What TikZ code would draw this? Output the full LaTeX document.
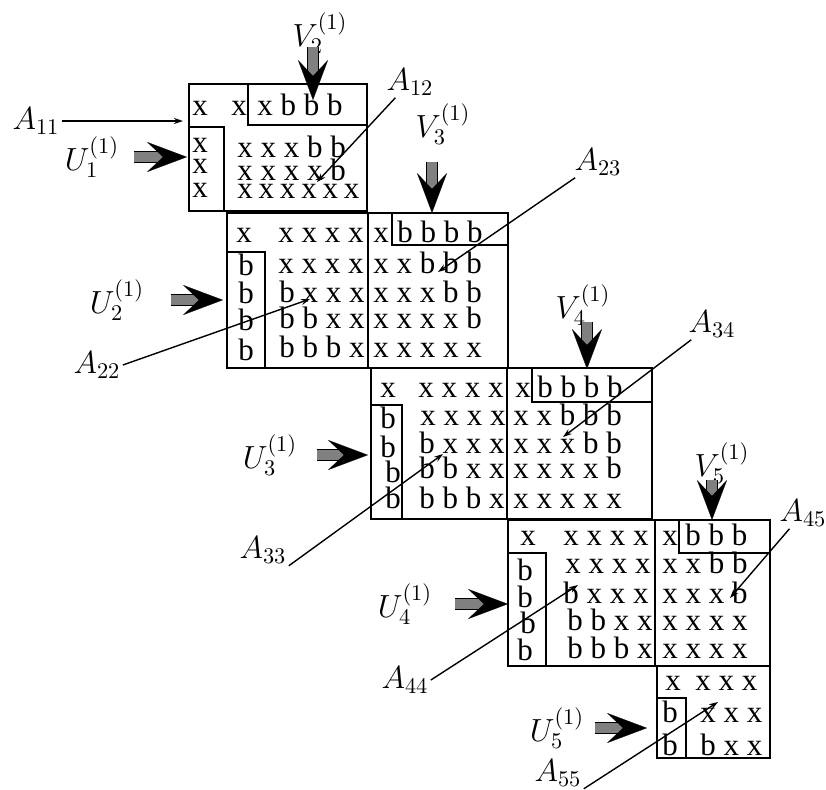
\documentclass[tikz,border=0pt]{standalone}
\usepackage{fix-cm}
\usepackage{fontspec}
\usepackage{tikz}
\usetikzlibrary{arrows.meta,positioning,calc}
\newfontfamily\entfamily{Liberation Serif}
\newcommand\entfont{\entfamily\fontsize{15.5pt}{18pt}\selectfont}
\newcommand\lblfont{\fontsize{16pt}{19pt}\selectfont}
\tikzset{
  blk/.style={draw, line width=1pt},
  ent/.style={font=\entfont, inner sep=0pt, anchor=base west},
  tight/.style={ent, font={\entfont\spaceskip=2.9pt}},
  lbl/.style={font=\lblfont, inner sep=1pt},
  ptr/.style={-{Stealth[length=4.5pt,width=3pt]}, line width=0.7pt},
  fat/.style={draw=gray, line width=4.6pt,
    preaction={-, draw=black, line width=6pt, shorten >=11pt},
    -{Stealth[length=20pt,width=15pt,inset=8pt,line width=0.1pt,color=black]}}
}

\begin{document}
\begin{tikzpicture}[x=0.5pt, y=-0.5pt]
  \useasboundingbox (0,0) rectangle (826,789);

  % block 1
  \draw[blk] (189,84) rectangle (367,211);
  \draw[blk] (248,84) rectangle (367,125);
  \draw[blk] (189,127) rectangle (224,211);
  \node[ent] (e1a) at (192,115) {x};
  \node[ent] (e1b) at (231,115) {x};
  \node[ent] (e1c) at (257,115) {x b b b};
  \node[ent] (e1u1) at (192,152) {x};
  \node[ent] (e1u2) at (192,173) {x};
  \node[ent] (e1u3) at (192,197) {x};
  \node[ent] (e1r2) at (237,157) {x x x b b};
  \node[ent] (e1r3) at (237,180) {x x x x b};
  \node[tight] (e1r4) at (237,198) {x x x x x x};

  % block 2
  \draw[blk] (227,213) rectangle (508,368);
  \draw[blk] (368,213) -- (368,368);
  \draw[blk] (392,213) rectangle (508,245);
  \draw[blk] (227,252) rectangle (265,368);
  \node[ent] (e2a) at (236,242) {x};
  \node[ent] (e2b) at (278,242) {x x x x};
  \node[ent] (e2c) at (373,242) {x};
  \node[ent] (e2d) at (397,242) {b b b b};
  \node[ent] (e2r2l) at (278,273) {x x x x};
  \node[ent] (e2r2r) at (373,273) {x x b b b};
  \node[ent] (e2r3l) at (279,302) {b x x x};
  \node[ent] (e2r3r) at (373,302) {x x x b b};
  \node[ent] (e2r4l) at (279,328) {b b x x};
  \node[ent] (e2r4r) at (373,328) {x x x x b};
  \node[ent] (e2r5l) at (279,357) {b b b x};
  \node[ent] (e2r5r) at (373,357) {x x x x x};
  \node[ent] (e2u1) at (238,275) {b};
  \node[ent] (e2u2) at (238,303) {b};
  \node[ent] (e2u3) at (238,330) {b};
  \node[ent] (e2u4) at (238,360) {b};

  % block 3
  \draw[blk] (371,368) rectangle (652,519);
  \draw[blk] (507,368) -- (507,519);
  \draw[blk] (532,368) rectangle (652,402);
  \draw[blk] (371,405) rectangle (402,519);
  \node[ent] (e3a) at (380,397) {x};
  \node[ent] (e3b) at (418,397) {x x x x};
  \node[ent] (e3c) at (515,397) {x};
  \node[ent] (e3d) at (537,397) {b b b b};
  \node[ent] (e3r2l) at (420,425) {x x x x};
  \node[ent] (e3r2r) at (513,425) {x x b b b};
  \node[ent] (e3r3l) at (419,453) {b x x x};
  \node[ent] (e3r3r) at (513,453) {x x x b b};
  \node[ent] (e3r4l) at (419,478) {b b x x};
  \node[ent] (e3r4r) at (513,478) {x x x x b};
  \node[ent] (e3r5l) at (419,508) {b b b x};
  \node[ent] (e3r5r) at (513,508) {x x x x x};
  \node[ent] (e3u1) at (380,428) {b};
  \node[ent] (e3u2) at (380,457) {b};
  \node[ent] (e3u3) at (385,482) {b};
  \node[ent] (e3u4) at (385,508) {b};

  % block 4
  \draw[blk] (508,520) rectangle (770,666);
  \draw[blk] (655,520) -- (655,666);
  \draw[blk] (679,520) rectangle (770,553);
  \draw[blk] (508,553) rectangle (546,666);
  \node[ent] (e4a) at (520,545) {x};
  \node[ent] (e4b) at (563,545) {x x x x};
  \node[ent] (e4c) at (662,545) {x};
  \node[ent] (e4d) at (685,545) {b b b};
  \node[ent] (e4r2l) at (565,573) {x x x x};
  \node[ent] (e4r2r) at (662,573) {x x b b};
  \node[ent] (e4r3l) at (563,603) {b x x x};
  \node[ent] (e4r3r) at (662,603) {x x x b};
  \node[ent] (e4r4l) at (567,630) {b b x x};
  \node[ent] (e4r4r) at (662,630) {x x x x};
  \node[ent] (e4r5l) at (567,658) {b b b x};
  \node[ent] (e4r5r) at (662,658) {x x x x};
  \node[ent] (e4u1) at (517,580) {b};
  \node[ent] (e4u2) at (517,607) {b};
  \node[ent] (e4u3) at (520,633) {b};
  \node[ent] (e4u4) at (517,660) {b};

  % block 5
  \draw[blk] (657,666) rectangle (770,758);
  \draw[blk] (657,698) rectangle (686,758);
  \node[ent] (e5a) at (665,690) {x};
  \node[ent] (e5b) at (695,690) {x x x};
  \node[ent] (e5u1) at (662,722) {b};
  \node[ent] (e5r2) at (700,722) {x x x};
  \node[ent] (e5u2) at (662,755) {b};
  \node[ent] (e5r3) at (700,755) {b x x};

  % pointer ends
  \coordinate (a11tip) at (183,121);
  \coordinate (a12tip) at (317,182);
  \coordinate (a22tip) at (310,299);
  \coordinate (a23tip) at (438,272);
  \coordinate (a33tip) at (443,454);
  \coordinate (a34tip) at (563,437);
  \coordinate (a44tip) at (578,585);
  \coordinate (a45tip) at (730,598);
  \coordinate (a55tip) at (718,702);
  \coordinate (u1tip) at (187,157);
  \coordinate (u2tip) at (223,300);
  \coordinate (u3tip) at (368,455);
  \coordinate (u4tip) at (508,604);
  \coordinate (u5tip) at (647,728);
  \coordinate (v2tip) at (313,100);
  \coordinate (v3tip) at (432,213);
  \coordinate (v4tip) at (587,369);
  \coordinate (v5tip) at (712,520);

  % labels
  \node[lbl] (a11) at (36,121) {$A_{11}$};
  \node[lbl] (a12) at (410,82) {$A_{12}$};
  \node[lbl] (a22) at (97,365) {$A_{22}$};
  \node[lbl] (a23) at (598,162) {$A_{23}$};
  \node[lbl] (a33) at (263,550) {$A_{33}$};
  \node[lbl] (a34) at (712,324) {$A_{34}$};
  \node[lbl] (a44) at (405,680) {$A_{44}$};
  \node[lbl] (a45) at (803,513) {$A_{45}$};
  \node[lbl] (a55) at (558,773) {$A_{55}$};
  \node[lbl] (u1) at (92,157) {$U_1^{(1)}$};
  \node[lbl] (u2) at (117,300) {$U_2^{(1)}$};
  \node[lbl] (u3) at (270,455) {$U_3^{(1)}$};
  \node[lbl] (u4) at (405,604) {$U_4^{(1)}$};
  \node[lbl] (u5) at (557,728) {$U_5^{(1)}$};
  \node[lbl] (v2) at (320,33) {$V_2^{(1)}$};
  \node[lbl] (v3) at (443,124) {$V_3^{(1)}$};
  \node[lbl] (v4) at (583,305) {$V_4^{(1)}$};
  \node[lbl] (v5) at (722,463) {$V_5^{(1)}$};

  % thin pointers
  \draw[ptr] (a11) -- (a11tip);
  \draw[ptr] (a12) -- (a12tip);
  \draw[ptr] (a22.east) -- (a22tip);
  \draw[ptr] (a23) -- (a23tip);
  \draw[ptr] (a33.south east) -- (a33tip);
  \draw[ptr] (a34) -- (a34tip);
  \draw[ptr] (a44.east) -- (a44tip);
  \draw[ptr] (a45) -- (a45tip);
  \draw[ptr] (a55.south east) -- (a55tip);

  % fat arrows
  \draw[fat, shorten <=6pt] (u1) -- (u1tip);
  \draw[fat, shorten <=12pt] (u2) -- (u2tip);
  \draw[fat, shorten <=8.5pt] (u3) -- (u3tip);
  \draw[fat, shorten <=10pt] (u4) -- (u4tip);
  \draw[fat, shorten <=4pt] (u5) -- (u5tip);
  \draw[fat, shorten <=-4pt] (v2.south -| v2tip) -- (v2tip);
  \draw[fat, shorten <=8pt] (v3.south -| v3tip) -- (v3tip);
  \draw[fat, shorten <=-2.75pt] (v4.south -| v4tip) -- (v4tip);
  \draw[fat, shorten <=-2.5pt] (v5.south -| v5tip) -- (v5tip);
\end{tikzpicture}
\end{document}
